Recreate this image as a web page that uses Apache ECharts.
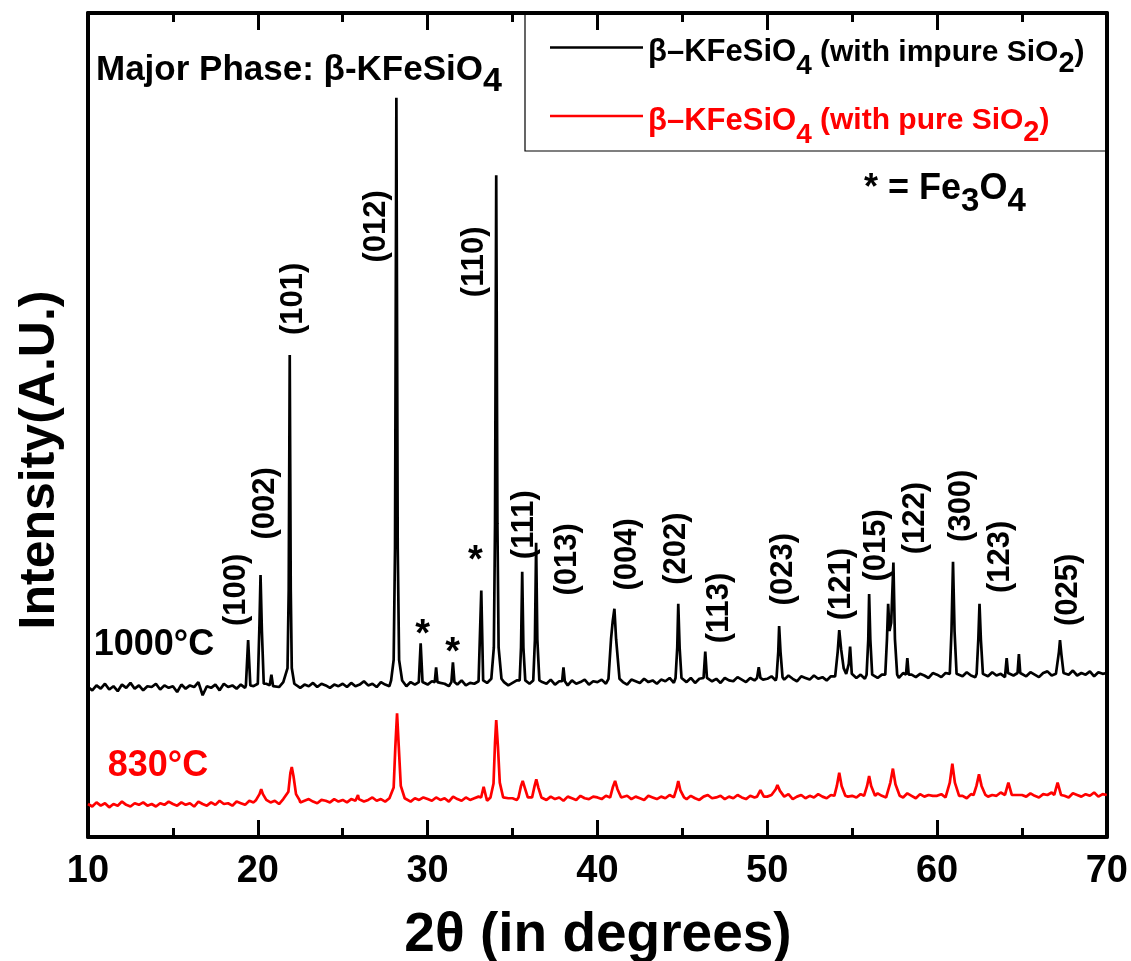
<!DOCTYPE html>
<html>
<head>
<meta charset="utf-8">
<script src="https://cdn.jsdelivr.net/npm/echarts@6/dist/echarts.min.js"></script>
<style>
html,body{margin:0;padding:0;background:#fff;}
#chart{width:1131px;height:961px;}
</style>
</head>
<body>
<div id="chart"></div>
<script>
// ---------------- DATA ----------------
const xStart = 10, xStep = 0.25;   // baseline sample grid (2θ, degrees)
// 1000°C (black) baseline samples, 10°..70° every 0.25°
const blackBase = [
182,178,184,180,186,179,183,177,185,181,187,180,184,178,183,182,186,179,184,181,
183,176,185,180,184,182,188,172,183,181,185,178,186,182,184,180,185,181,187,183,
184,183,186,180,185,182,188,184,183,186,181,185,183,187,182,186,184,181,185,183,
186,182,187,183,185,189,184,186,182,188,185,183,187,184,186,183,188,185,184,187,
185,189,184,187,186,183,188,185,190,184,187,186,189,183,187,185,189,186,188,184,
187,190,185,188,186,189,184,188,186,191,185,189,187,184,190,186,188,191,185,189,
188,191,186,190,187,192,188,185,191,189,187,192,188,190,186,191,189,193,187,190,
191,188,193,187,192,190,194,189,192,187,193,190,189,194,191,188,193,190,195,191,
192,195,190,194,191,196,192,189,195,193,191,196,192,194,190,195,193,197,192,194,
196,193,197,192,198,195,193,197,194,198,196,193,199,195,197,194,198,196,193,199,
197,194,199,196,193,198,195,200,196,194,199,197,195,200,196,198,194,199,196,201,
198,195,200,197,194,199,201,196,198,195,200,197,202,196,199,197,201,195,200,198,
199];
// 830°C (red) baseline samples, same grid
const redBase = [
40,37,42,38,41,36,40,38,43,39,37,41,39,42,38,40,37,41,39,43,
40,38,42,39,41,37,43,40,38,42,39,44,40,41,38,43,41,39,44,42,
43,41,45,42,44,40,46,43,41,45,42,44,46,43,41,45,44,42,46,43,
45,42,46,44,47,43,45,48,44,46,43,47,45,44,48,46,43,47,45,48,
46,44,48,45,47,43,49,46,44,48,45,47,49,46,44,48,46,45,49,47,
47,45,49,46,48,44,50,47,45,49,46,48,44,49,47,45,50,47,46,49,
48,46,50,47,49,45,48,50,46,49,47,45,50,48,46,49,47,51,46,48,
49,46,50,47,45,49,51,47,48,50,46,49,47,51,48,46,50,48,52,47,
49,51,47,50,48,52,46,49,51,47,50,48,52,49,47,51,48,50,53,49,
50,48,52,49,51,47,53,50,48,52,49,51,48,53,50,47,52,49,51,50,
50,52,48,51,49,53,50,47,52,50,48,53,49,51,50,54,48,52,50,51,
51,49,53,50,48,52,51,54,49,52,50,48,53,51,49,52,50,54,49,52,
51];
// Peak profiles [2θ, intensity] — 1000°C
const blackPeaks = [
[[19.3,184],[19.43,239],[19.56,184]],
[[20.0,186],[20.1,260],[20.16,318],[20.24,250],[20.35,186]],
[[20.7,184],[20.8,197],[20.9,183]],
[[21.6,186],[21.75,205],[21.82,300],[21.88,585],[21.94,300],[22.0,205],[22.15,186]],
[[27.85,190],[28.0,215],[28.08,350],[28.16,897],[28.24,350],[28.32,215],[28.5,190]],
[[29.48,188],[29.59,235],[29.7,188]],
[[30.42,188],[30.5,206],[30.58,188]],
[[31.4,188],[31.49,212],[31.58,188]],
[[33.05,190],[33.16,299],[33.27,190]],
[[33.75,192],[33.9,230],[33.97,380],[34.04,803],[34.11,380],[34.18,230],[34.35,192]],
[[35.42,190],[35.5,230],[35.57,322],[35.64,230],[35.75,190]],
[[36.22,190],[36.32,240],[36.39,357],[36.46,240],[36.58,190]],
[[37.92,189],[38.0,206],[38.08,189]],
[[40.65,192],[40.8,240],[40.9,262],[41.0,277],[41.1,240],[41.3,192]],
[[44.6,193],[44.7,230],[44.76,283],[44.84,230],[44.95,193]],
[[46.25,193],[46.35,225],[46.45,193]],
[[49.4,193],[49.5,206],[49.6,193]],
[[50.55,194],[50.65,225],[50.7,256],[50.78,225],[50.9,194]],
[[54.0,195],[54.15,225],[54.24,251],[54.35,228],[54.5,205],[54.65,198],[54.8,210],[54.88,231],[54.98,198]],
[[55.85,197],[55.95,240],[56.0,295],[56.07,240],[56.18,197]],
[[56.95,197],[57.05,240],[57.12,283],[57.2,250],[57.3,260],[57.43,333],[57.52,240],[57.65,197]],
[[58.17,197],[58.25,217],[58.33,197]],
[[60.75,198],[60.85,250],[60.94,334],[61.03,250],[61.15,198]],
[[62.33,198],[62.43,240],[62.5,283],[62.58,240],[62.7,198]],
[[64.02,199],[64.1,217],[64.18,199]],
[[64.74,199],[64.82,222],[64.9,199]],
[[67.1,199],[67.18,225],[67.24,239],[67.32,222],[67.45,199]]
];
// Peak profiles — 830°C
const redPeaks = [
[[19.9,45],[20.1,52],[20.2,58],[20.3,52],[20.5,45]],
[[21.6,45],[21.8,55],[21.92,78],[22.0,85],[22.1,74],[22.25,52],[22.45,45]],
[[25.85,46],[25.9,51],[25.95,46]],
[[27.8,47],[28.0,60],[28.1,110],[28.2,150],[28.3,110],[28.42,62],[28.65,47]],
[[33.15,48],[33.3,61],[33.45,48]],
[[33.7,48],[33.88,65],[33.97,115],[34.04,142],[34.14,110],[34.25,66],[34.45,48]],
[[35.35,48],[35.5,62],[35.6,68],[35.72,60],[35.9,48]],
[[36.15,48],[36.3,62],[36.4,70],[36.52,60],[36.7,48]],
[[40.75,48],[40.9,60],[41.04,68],[41.18,58],[41.4,48]],
[[44.5,48],[44.65,58],[44.76,68],[44.88,57],[45.1,48]],
[[49.4,49],[49.6,57],[49.8,49]],
[[50.35,49],[50.5,58],[50.6,63],[50.75,56],[51.0,49]],
[[53.95,50],[54.1,62],[54.24,78],[54.38,62],[54.6,50]],
[[55.7,50],[55.88,62],[56.0,74],[56.12,62],[56.35,50]],
[[57.05,50],[57.25,66],[57.4,83],[57.55,64],[57.8,50]],
[[60.55,50],[60.75,66],[60.9,89],[61.05,66],[61.3,50]],
[[62.15,51],[62.32,62],[62.47,76],[62.62,62],[62.85,51]],
[[64.0,51],[64.2,66],[64.4,51]],
[[66.9,51],[67.1,66],[67.3,51]]
];
// Miller-index annotations (text, 2θ, intensity of label centre)
const hklText = ['(100)','(002)','(101)','(012)','(110)','(111)','(013)','(004)','(202)','(113)','(023)','(121)','(015)','(122)','(300)','(123)','(025)'];
const hklX    = [18.74, 20.44, 22.09, 27.0, 32.76, 35.68, 38.26, 41.74, 44.65, 47.18, 50.94, 54.38, 56.41, 58.71, 61.41, 63.71, 67.71];
const hklY    = [300, 405, 653, 741, 698, 379, 337, 343, 350, 278, 325, 307, 354, 387, 402, 340, 300];
// Fe3O4 markers
const starX = [29.71, 31.47, 32.82];
const starY = [245, 223, 334];
const xTickLabels = ['10','20','30','40','50','60','70'];
const seriesNames = ['β–KFeSiO4 (with impure SiO2)', 'β–KFeSiO4 (with pure SiO2)'];

// ---------------- BUILD ----------------
function buildSeries(base, peaks) {
  const pts = [];
  base.forEach(function (v, i) {
    const x = xStart + i * xStep;
    const inside = peaks.some(function (g) { return x >= g[0][0] && x <= g[g.length - 1][0]; });
    if (!inside) pts.push([x, v]);
  });
  peaks.forEach(function (g) { g.forEach(function (p) { pts.push(p); }); });
  pts.sort(function (a, b) { return a[0] - b[0]; });
  return pts;
}
const FONT = "'Liberation Sans', Arial, Helvetica, sans-serif";

const chart = echarts.init(document.getElementById('chart'), null, {renderer: 'canvas'});

function richSet(color) {
  return {
    m: {fontSize: 31, fontWeight: 'bold', color: color, fontFamily: FONT, padding: [10, 0, 0, 0], verticalAlign: 'middle'},
    s: {fontSize: 28, fontWeight: 'bold', color: color, fontFamily: FONT, padding: [38, 0, 0, 0], verticalAlign: 'middle'},
    n: {fontSize: 30, fontWeight: 'bold', color: color, fontFamily: FONT, padding: [10, 0, 0, 0], verticalAlign: 'middle'},
    t: {fontSize: 29, fontWeight: 'bold', color: color, fontFamily: FONT, padding: [33, 0, 0, 0], verticalAlign: 'middle'}
  };
}
const rk = richSet('#000'), rr = richSet('#ff0000');
const legendRich = {
  km: rk.m, ks: rk.s, kn: rk.n, kt: rk.t,
  rm: rr.m, rs: rr.s, rn: rr.n, rt: rr.t
};
const noStroke = {textBorderWidth: 0, textBorderColor: 'transparent', textShadowBlur: 0, opacity: 1};

const option = {
  backgroundColor: '#fff',
  animation: false,
  textStyle: {fontFamily: FONT},
  grid: {left: 88, right: 23, top: 13, bottom: 124, containLabel: false},
  legend: {
    data: [{name: seriesNames[0]}, {name: seriesNames[1]}],
    orient: 'vertical',
    left: 550, top: 37,
    padding: 0,
    icon: 'rect',
    itemWidth: 93, itemHeight: 2.5, itemGap: 25,
    selectedMode: false,
    formatter: function (name) {
      if (name === seriesNames[0]) return '{km|β–KFeSiO}{ks|4}{kn| (with impure SiO}{kt|2}{kn|)}';
      return '{rm|β–KFeSiO}{rs|4}{rn| (with pure SiO}{rt|2}{rn|)}';
    },
    textStyle: {rich: legendRich}
  },
  xAxis: [{
    type: 'value', min: 10, max: 70, interval: 10, position: 'bottom',
    axisLine: {show: true, onZero: false, lineStyle: {color: '#000', width: 4}},
    axisTick: {show: true, inside: true, length: 17, lineStyle: {color: '#000', width: 3}},
    minorTick: {show: true, splitNumber: 2, length: 9, lineStyle: {color: '#000', width: 3}},
    axisLabel: {show: true, margin: 16, fontSize: 38, fontWeight: 'bold', color: '#000', fontFamily: FONT,
      formatter: function (v) { const i = xTickLabels.indexOf(String(v)); return i >= 0 ? xTickLabels[i] : ''; }},
    splitLine: {show: false}
  }, {
    type: 'value', min: 10, max: 70, interval: 10, position: 'top',
    axisLine: {show: true, onZero: false, lineStyle: {color: '#000', width: 4}},
    axisTick: {show: true, inside: true, length: 17, lineStyle: {color: '#000', width: 3}},
    minorTick: {show: true, splitNumber: 2, length: 9, lineStyle: {color: '#000', width: 3}},
    axisLabel: {show: false},
    splitLine: {show: false}
  }],
  yAxis: [{
    type: 'value', min: 0, max: 1000, position: 'left',
    axisLine: {show: true, onZero: false, lineStyle: {color: '#000', width: 4}},
    axisTick: {show: false}, axisLabel: {show: false}, splitLine: {show: false}
  }, {
    type: 'value', min: 0, max: 1000, position: 'right',
    axisLine: {show: true, onZero: false, lineStyle: {color: '#000', width: 4}},
    axisTick: {show: false}, axisLabel: {show: false}, splitLine: {show: false}
  }],
  series: [{
    name: seriesNames[0], type: 'line', xAxisIndex: 0, yAxisIndex: 0,
    data: buildSeries(blackBase, blackPeaks), showSymbol: false, symbol: 'none',
    lineStyle: {color: '#000', width: 2.7}, itemStyle: {color: '#000'}, silent: true, z: 3
  }, {
    name: seriesNames[1], type: 'line', xAxisIndex: 0, yAxisIndex: 0,
    data: buildSeries(redBase, redPeaks), showSymbol: false, symbol: 'none',
    lineStyle: {color: '#ff0000', width: 2.7}, itemStyle: {color: '#ff0000'}, silent: true, z: 3
  }, {
    name: 'hkl', type: 'scatter', xAxisIndex: 0, yAxisIndex: 0, symbolSize: 0, silent: true, z: 5,
    itemStyle: {color: '#000', opacity: 1},
    data: hklX.map(function (x, i) { return {value: [x, hklY[i]], name: hklText[i]}; }),
    label: Object.assign({show: true, position: 'inside', rotate: 90, formatter: '{b}', fontSize: 31, fontWeight: 'bold', color: '#000', fontFamily: FONT}, noStroke)
  }, {
    name: 'Fe3O4', type: 'scatter', xAxisIndex: 0, yAxisIndex: 0, symbolSize: 0, silent: true, z: 5,
    itemStyle: {color: '#000', opacity: 1},
    data: starX.map(function (x, i) { return {value: [x, starY[i]], name: '*'}; }),
    label: Object.assign({show: true, position: 'inside', formatter: '{b}', fontSize: 38, fontWeight: 'bold', color: '#000', fontFamily: FONT}, noStroke)
  }],
  graphic: [
    {type: 'rect', z: 1, shape: {x: 525, y: 13, width: 583, height: 138}, style: {fill: 'rgba(0,0,0,0)', stroke: '#000', lineWidth: 1.2}},
    {type: 'text', z: 10, x: 96, y: 70, style: {
      text: '{a|Major Phase: β-KFeSiO}{s|4}', align: 'left', verticalAlign: 'middle',
      rich: {a: {fontSize: 35, fontWeight: 'bold', fontFamily: FONT, fill: '#000', verticalAlign: 'middle'},
             s: {fontSize: 34, fontWeight: 'bold', fontFamily: FONT, fill: '#000', padding: [24, 0, 0, 0], verticalAlign: 'middle'}}}},
    {type: 'text', z: 10, x: 864, y: 189, style: {
      text: '{a|* = Fe}{s|3}{a|O}{s|4}', align: 'left', verticalAlign: 'middle',
      rich: {a: {fontSize: 36, fontWeight: 'bold', fontFamily: FONT, fill: '#000', verticalAlign: 'middle'},
             s: {fontSize: 33, fontWeight: 'bold', fontFamily: FONT, fill: '#000', padding: [26, 0, 0, 0], verticalAlign: 'middle'}}}},
    {type: 'text', z: 10, x: 154, y: 645, style: {text: '1000°C', font: 'bold 36px ' + FONT, fill: '#000', align: 'center', verticalAlign: 'middle'}},
    {type: 'text', z: 10, x: 158, y: 766, style: {text: '830°C', font: 'bold 36px ' + FONT, fill: '#ff0000', align: 'center', verticalAlign: 'middle'}},
    {type: 'text', z: 10, x: 598, y: 936, style: {text: '2θ (in degrees)', font: 'bold 55px ' + FONT, fill: '#000', align: 'center', verticalAlign: 'middle'}},
    {type: 'text', z: 10, x: 40, y: 460, rotation: Math.PI / 2, style: {text: 'Intensity(A.U.)', font: 'bold 50px ' + FONT, fill: '#000', align: 'center', verticalAlign: 'middle'}}
  ]
};
chart.setOption(option);
</script>
</body>
</html>
